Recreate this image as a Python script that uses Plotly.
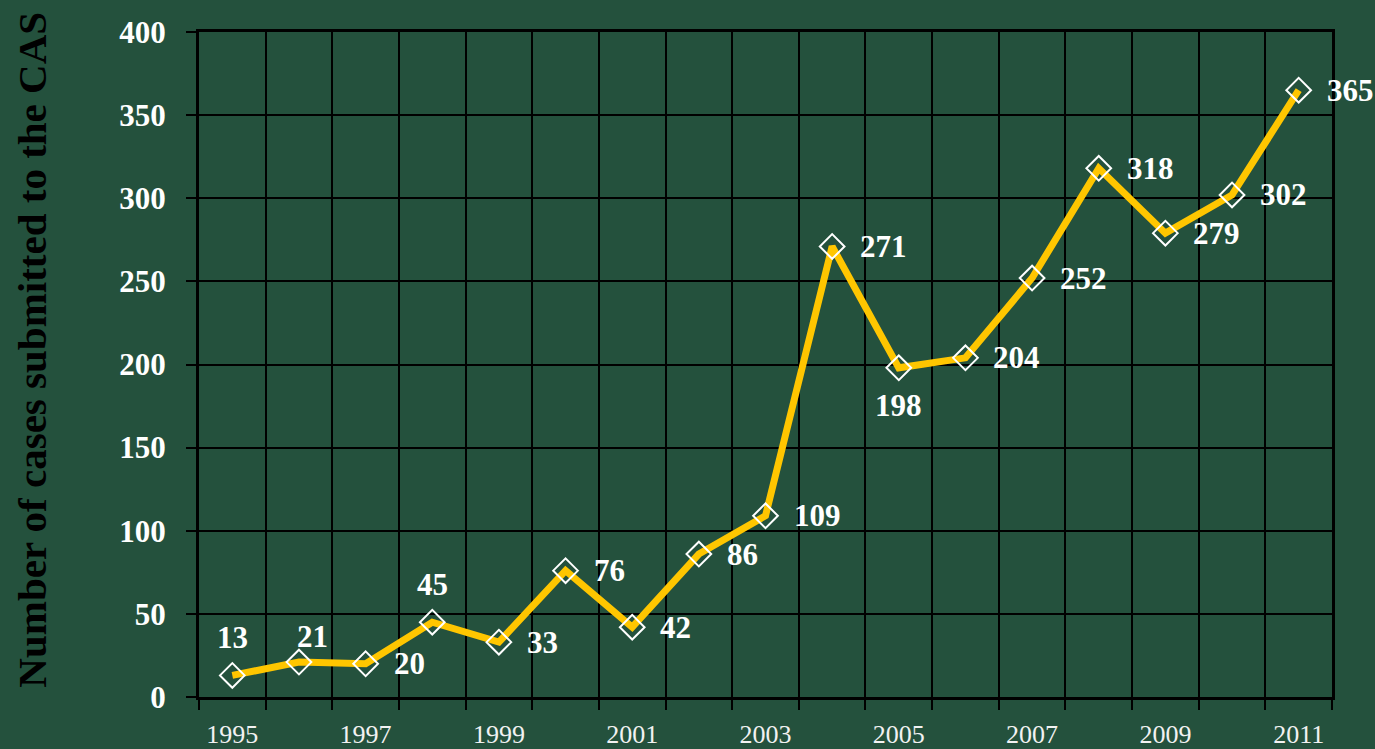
import plotly.graph_objects as go

years = list(range(1995, 2012))
cases = [13, 21, 20, 45, 33, 76, 42, 86, 109, 271, 198, 204, 252, 318, 279, 302, 365]
label_pos = ["above", "aboveright", "right", "above", "right", "right", "right", "right", "right",
             "right", "below", "right", "right", "right", "right", "right", "right"]
x_tick_labels = [str(y) for y in range(1995, 2012, 2)]
y_ticks = list(range(0, 401, 50))

BG = "#24513D"
SERIF = "Liberation Serif, Times New Roman, serif"

fig = go.Figure()
fig.add_trace(go.Scatter(
    x=years, y=cases, mode="lines+markers",
    line=dict(color="#FFC600", width=7),
    marker=dict(symbol="diamond-open", size=19, color="white", line=dict(color="white", width=2)),
    hoverinfo="x+y",
))

offsets = {
    "above": dict(xshift=0, yshift=38, xanchor="center"),
    "aboveright": dict(xshift=14, yshift=26, xanchor="center"),
    "right": dict(xshift=26, yshift=0, xanchor="left"),
    "below": dict(xshift=0, yshift=-38, xanchor="center"),
}
for x, y, p in zip(years, cases, label_pos):
    o = offsets[p]
    fig.add_annotation(x=x, y=y, text=str(y), showarrow=False, yanchor="middle",
                       xanchor=o["xanchor"], xshift=o["xshift"], yshift=o["yshift"],
                       font=dict(family=SERIF, size=31, color="white", weight="bold"))

fig.add_annotation(xref="paper", yref="paper", x=-0.147, y=0.523,
                   text="Number of cases submitted to the CAS", textangle=-90,
                   showarrow=False, xanchor="center", yanchor="middle",
                   font=dict(family=SERIF, size=41, color="black", weight="bold"))

fig.update_layout(
    width=1375, height=749,
    paper_bgcolor=BG, plot_bgcolor=BG,
    margin=dict(l=199, r=43, t=32, b=52),
    showlegend=False,
    xaxis=dict(
        range=[1994.5, 2011.5], automargin=False,
        tickmode="array", tickvals=[int(t) for t in x_tick_labels], ticktext=x_tick_labels,
        ticks="", showgrid=False, zeroline=False,
        showline=True, linecolor="black", linewidth=3, mirror=True,
        tickfont=dict(family=SERIF, size=26, color="#F2F2F2"),
        ticklabelstandoff=12,
        minor=dict(tickmode="array", tickvals=[y + 0.5 for y in range(1994, 2012)],
                   ticks="outside", ticklen=10, tickwidth=2, tickcolor="black",
                   showgrid=True, gridcolor="black", gridwidth=2),
    ),
    yaxis=dict(
        range=[0, 400], tickmode="array", tickvals=y_ticks, automargin=False,
        ticks="outside", ticklen=10, tickwidth=2, tickcolor="black",
        showgrid=True, gridcolor="black", gridwidth=2, zeroline=False,
        showline=True, linecolor="black", linewidth=3, mirror=True,
        tickfont=dict(family=SERIF, size=31, color="white", weight="bold"),
        ticklabelstandoff=14,
    ),
)

fig.write_html("out.html", config={"displayModeBar": False},
               post_script="document.body.style.margin='0';document.body.style.overflow='hidden';")
